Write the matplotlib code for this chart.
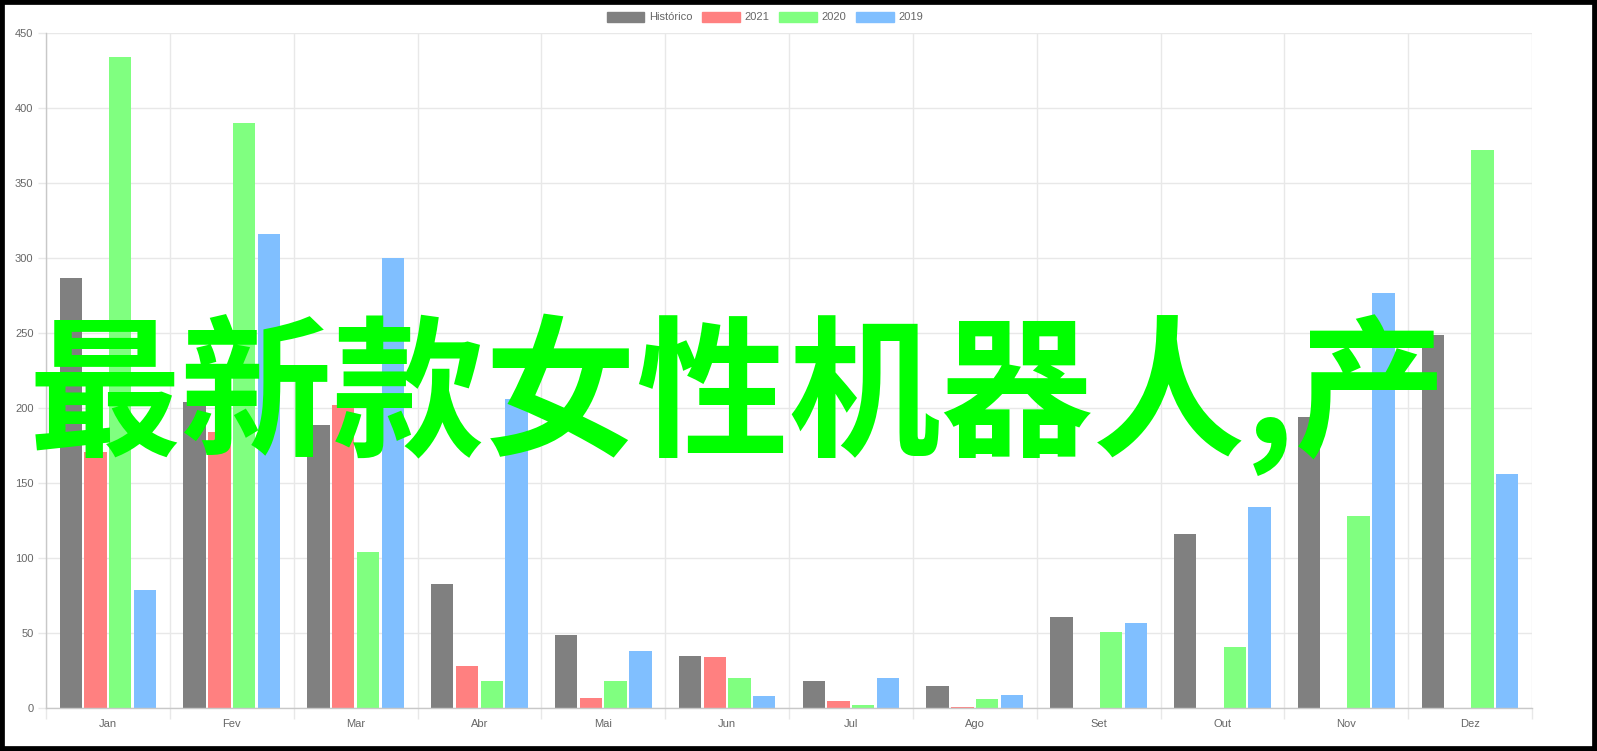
import matplotlib
matplotlib.use("Agg")
import matplotlib.pyplot as plt
from matplotlib.patches import Patch, Rectangle
import numpy as np

plt.rcParams.update({
    "font.family": ["Liberation Sans", "DejaVu Sans"],
    "font.size": 8,
})

months = ["Jan", "Fev", "Mar", "Abr", "Mai", "Jun",
          "Jul", "Ago", "Set", "Out", "Nov", "Dez"]
series_names = ["Histórico", "2021", "2020", "2019"]
historico = [287, 204, 189, 83, 49, 35, 18, 15, 61, 116, 194, 249]
y2021 = [171, 184, 202, 28, 7, 34, 5, 1, 0, 0, 0, 0]
y2020 = [434, 390, 104, 18, 18, 20, 2, 6, 51, 41, 128, 372]
y2019 = [79, 316, 300, 206, 38, 8, 20, 9, 57, 134, 277, 156]
y_ticks = list(range(0, 451, 50))
overlay_text = "最新款女性机器人,产"

COLORS = ["#808080", "#ff8080", "#80ff80", "#80bfff"]
GRID = "#e8e8e8"
LABEL = "#666666"

W, H = 1597, 751
fig = plt.figure(figsize=(W / 100, H / 100), dpi=100)
ax = fig.add_axes([46 / W, (H - 708) / H, (1532 - 46) / W, (708 - 33) / H])

x = np.arange(len(months))
slot = 0.8 / 4
for i, (vals, col) in enumerate(zip([historico, y2021, y2020, y2019], COLORS)):
    offset = -0.4 + slot * (i + 0.5)
    ax.bar(x + offset, vals, width=slot * 0.9, color=col, zorder=2)

ax.set_xlim(-0.5, len(months) - 0.5)
ax.set_ylim(0, 450)

# category boundaries as gridlines/ticks, labels in the centers
ax.set_xticks(np.arange(-0.5, len(months), 1.0))
ax.set_xticklabels([])
ax.set_xticks(x, minor=True)
ax.set_xticklabels(months, minor=True)
ax.tick_params(axis="x", which="major", length=8, color=GRID, width=1)
ax.tick_params(axis="x", which="minor", length=0, pad=8, labelcolor=LABEL,
               labelsize=8)
ax.set_yticks(y_ticks)
ax.tick_params(axis="y", length=6, color=GRID, width=1, pad=3,
               labelcolor=LABEL, labelsize=8)
ax.grid(True, which="major", color=GRID, linewidth=1, zorder=0)

for side in ["top", "right"]:
    ax.spines[side].set_visible(False)
for side in ["left", "bottom"]:
    ax.spines[side].set_color("#c8c8c8")
    ax.spines[side].set_linewidth(1)

handles = [Patch(facecolor=c, edgecolor=c, label=n)
           for c, n in zip(COLORS, series_names)]
fig.legend(handles=handles, loc="center", bbox_to_anchor=(765 / W, 1 - 17 / H),
           ncol=4, frameon=False, fontsize=8, handlelength=3.4,
           handleheight=1.0, handletextpad=0.4, columnspacing=0.9,
           labelcolor=LABEL)

# big overlay caption drawn on top of the chart
fig.text(29 / W, 1 - 396 / H, overlay_text, ha="left", va="center",
         fontsize=109.5, fontweight="bold", color="#00ff00",
         family=["Noto Sans CJK SC", "DejaVu Sans"], zorder=5)

fig.patches.append(Rectangle((0, 0), 1, 1, transform=fig.transFigure,
                             fill=False, edgecolor="black", linewidth=7))

fig.savefig("out.png", dpi=100)
